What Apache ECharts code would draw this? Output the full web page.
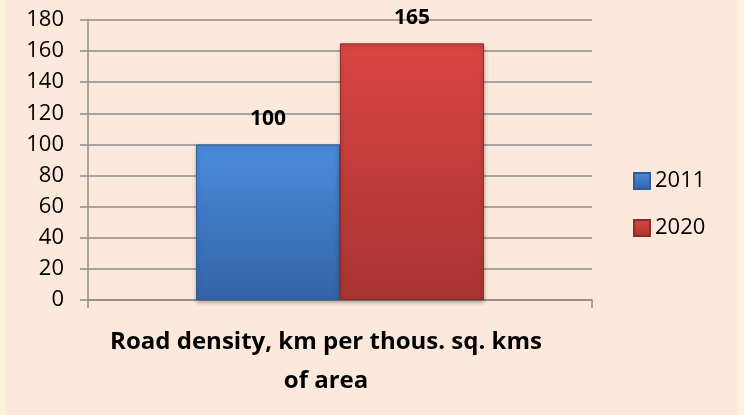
<!DOCTYPE html>
<html>
<head>
<meta charset="utf-8">
<script src="https://cdn.jsdelivr.net/npm/echarts@6/dist/echarts.min.js"></script>
<style>
  html, body { margin: 0; padding: 0; background: #fcf2da; }
  #chart { width: 744px; height: 415px; }
</style>
</head>
<body>
<div id="chart"></div>
<script>
const categories = ["Road density, km per thous. sq. kms\nof area"];
const seriesNames = ["2011", "2020"];
const values2011 = [100];
const values2020 = [165];
const yTicks = [0, 180, 20]; // min, max, step

const chart = echarts.init(document.getElementById("chart"));

function grad(top, bottom) {
  return new echarts.graphic.LinearGradient(0, 0, 0, 1, [
    { offset: 0, color: top },
    { offset: 1, color: bottom }
  ]);
}

const labelStyle = {
  show: true,
  position: "top",
  distance: 15,
  fontFamily: "Open Sans",
  fontWeight: "bold",
  fontSize: 21,
  color: "#000"
};

const option = {
  backgroundColor: "#fcf2da",
  animation: false,
  graphic: [
    {
      type: "rect",
      z: -10,
      shape: { x: 5, y: 0, width: 732, height: 415 },
      style: { fill: "#fde9db" }
    }
  ],
  title: {
    text: categories[0],
    left: 321,
    top: 318,
    textAlign: "center",
    textStyle: {
      fontFamily: "Open Sans",
      fontWeight: "bold",
      fontSize: 24,
      lineHeight: 39,
      color: "#000"
    }
  },
  legend: {
    orient: "vertical",
    left: 628,
    top: 165,
    itemWidth: 16,
    itemHeight: 16,
    itemGap: 25,
    icon: "rect",
    textStyle: {
      fontFamily: "Open Sans",
      fontSize: 22,
      lineHeight: 16,
      color: "#000",
      padding: [0, 0, 0, 0]
    },
    data: seriesNames
  },
  grid: {
    left: 88,
    right: 152,
    top: 20,
    bottom: 115,
    containLabel: false
  },
  xAxis: {
    type: "category",
    data: categories,
    axisLabel: { show: false },
    axisLine: { lineStyle: { color: "#8c8c8c", width: 1.5 } },
    axisTick: { show: true, length: 8, alignWithLabel: false, lineStyle: { color: "#8c8c8c", width: 1.5 } }
  },
  yAxis: {
    type: "value",
    min: yTicks[0],
    max: yTicks[1],
    interval: yTicks[2],
    axisLine: { show: true, lineStyle: { color: "#8c8c8c", width: 1.5 } },
    axisTick: { show: true, length: 8, lineStyle: { color: "#8c8c8c", width: 1.5 } },
    splitLine: { lineStyle: { color: "#8c8c8c", width: 1.5 } },
    axisLabel: {
      fontFamily: "Open Sans",
      fontSize: 22,
      color: "#000",
      margin: 24
    }
  },
  series: [
    {
      name: seriesNames[0],
      type: "bar",
      data: values2011,
      barWidth: 144,
      barGap: "0%",
      itemStyle: {
        color: grad("#4a8bdc", "#3464a6"),
        borderColor: "#2f5d9c",
        borderWidth: 1,
        shadowColor: "rgba(0,0,0,0.3)",
        shadowBlur: 4,
        shadowOffsetY: 2
      },
      label: labelStyle
    },
    {
      name: seriesNames[1],
      type: "bar",
      data: values2020,
      barWidth: 144,
      barGap: "0%",
      itemStyle: {
        color: grad("#da4543", "#a83433"),
        borderColor: "#8f2a2a",
        borderWidth: 1,
        shadowColor: "rgba(0,0,0,0.3)",
        shadowBlur: 4,
        shadowOffsetY: 2
      },
      label: labelStyle
    }
  ]
};

chart.setOption(option);
</script>
</body>
</html>
